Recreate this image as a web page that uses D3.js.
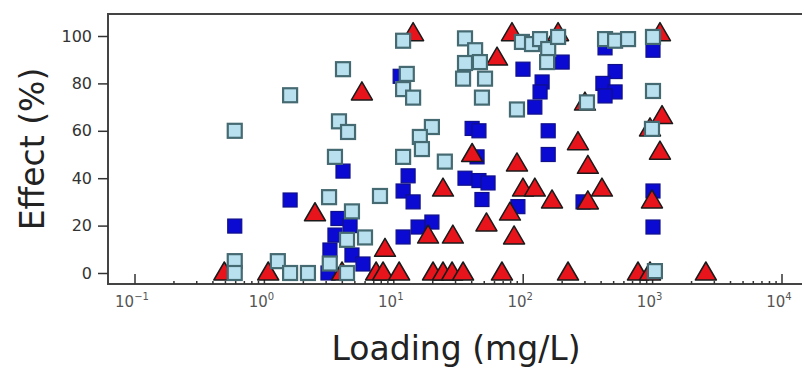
<!DOCTYPE html>
<html>
<head>
<meta charset="utf-8">
<script src="https://cdn.jsdelivr.net/npm/d3@7"></script>
<style>
  body { margin: 0; background: #fff; overflow: hidden; }
  text { font-family: "DejaVu Sans", sans-serif; }
</style>
</head>
<body>
<div id="chart"></div>
<script>
// data: [loading (mg/L), effect (%)]
const lightBlue = [
  [0.59, 60], [0.59, 5], [0.59, 0], [1.27, 5], [1.58, 0], [2.17, 0], [1.58, 75],
  [4.05, 86], [3.77, 64], [4.43, 59.5], [3.51, 49], [3.16, 32], [3.2, 4], [4.75, 26],
  [5.99, 15], [4.35, 14], [4.35, 0], [7.82, 32.5], [11.8, 98], [12.6, 84], [11.8, 77.6],
  [14.1, 74], [19.7, 61.6], [15.9, 57.4], [16.5, 52.3], [11.8, 49], [24.8, 47],
  [35.5, 99], [42.5, 94], [35.5, 88.6], [46.3, 89], [34.3, 82], [50.7, 82], [48, 74],
  [97.8, 97.5], [89.5, 69], [117, 96.6], [135, 98.7], [156, 94.5], [186, 99.6],
  [153, 89], [429, 98.7], [513, 98], [646, 98.7], [311, 72], [1007, 99.6],
  [1007, 76.8], [989, 60.8], [1042, 0.8]
];
const darkBlue = [
  [0.59, 19.8], [1.58, 30.8], [3.7, 23], [4.59, 20], [3.51, 16], [3.21, 9.7],
  [4.75, 7.6], [5.78, 3.8], [3.1, 0], [4.05, 43], [11.2, 83], [12.9, 41], [11.8, 34.6],
  [14.1, 30], [11.8, 15.2], [15.4, 19.4], [19.7, 21.5], [40.3, 61], [45.5, 60],
  [44, 49], [35.5, 40], [45.5, 39], [53.5, 38], [48, 31], [99.6, 86], [91, 28],
  [200, 89], [140, 80.6], [135, 76.4], [123, 70], [156, 60], [156, 50], [513, 85],
  [413, 80], [513, 76.4], [429, 74.7], [429, 95], [290, 30], [1007, 94],
  [1007, 34.6], [1007, 19.4]
];
const redTri = [
  [0.49, 0], [1.07, 0], [2.46, 25], [3.98, 0], [5.67, 76], [8.55, 10], [7.3, 0],
  [8.26, 0], [11, 0], [14.1, 101], [18.4, 15.6], [20.1, 0], [24, 0], [24, 35.4],
  [28.2, 0], [34.3, 0], [28.6, 15.6], [40.3, 50], [52, 20.7], [62.8, 90.7], [68.5, 0],
  [81.9, 101], [89.5, 46], [99.6, 35.4], [123, 35.4], [79, 25.3], [85, 15.2],
  [167, 30.4], [186, 101], [222, 0], [265, 55], [316, 45], [406, 35.4], [316, 30],
  [300, 71.7], [771, 0], [1140, 101], [1183, 66], [1140, 51], [989, 30.4],
  [955, 60.8], [955, 0], [2580, 0]
];
const yTicks = [0, 20, 40, 60, 80, 100];
const xDecades = [-1, 0, 1, 2, 3, 4];

const width = 802;
const height = 369;

const svg = d3.select('#chart')
  .append('svg')
  .attr('width', width)
  .attr('height', height);

const x = d3.scaleLog().domain([0.1, 10000]).range([135, 782]);
const y = d3.scaleLinear().domain([0, 100]).range([273, 36]);

const plotTop = 14;
const plotBottom = 284;
const plotLeft = 108;

// frame (right edge runs off the picture)
svg.append('rect')
  .attr('x', plotLeft)
  .attr('y', plotTop)
  .attr('width', 740)
  .attr('height', plotBottom - plotTop)
  .attr('fill', 'none')
  .attr('stroke', '#444')
  .attr('stroke-width', 2);

// y axis: outward ticks + labels
const yAxis = d3.axisLeft(y).tickValues(yTicks).tickSize(10).tickPadding(6);
const gy = svg.append('g')
  .attr('transform', 'translate(' + plotLeft + ',0)')
  .call(yAxis);
gy.select('.domain').remove();
gy.selectAll('line').attr('stroke', '#333').attr('stroke-width', 1.5);
gy.selectAll('text')
  .attr('font-size', 16)
  .attr('fill', '#333')
  .style('font-family', '"DejaVu Sans", sans-serif');

// x axis: inward ticks on log scale
const minorTicks = [];
xDecades.slice(0, -1).forEach(function(e) {
  for (let k = 1; k < 10; k++) minorTicks.push(k * Math.pow(10, e));
});
minorTicks.push(10000);
svg.append('g')
  .selectAll('line')
  .data(minorTicks)
  .join('line')
  .attr('x1', (d) => x(d))
  .attr('x2', (d) => x(d))
  .attr('y1', plotBottom)
  .attr('y2', (d) => {
    const isMajor = Math.abs(Math.log10(d) - Math.round(Math.log10(d))) < 1e-9;
    return plotBottom - (isMajor ? 10 : 3);
  })
  .attr('stroke', '#333')
  .attr('stroke-width', 1.5);

const xLab = svg.append('g')
  .selectAll('text')
  .data(xDecades)
  .join('text')
  .attr('x', (d) => x(Math.pow(10, d)) - 3)
  .attr('y', 307)
  .attr('text-anchor', 'middle')
  .attr('font-size', 15)
  .attr('fill', '#555');
xLab.append('tspan').text('10');
xLab.append('tspan')
  .attr('dy', -7)
  .attr('font-size', 10)
  .text((d) => (d < 0 ? '\u22121' : String(d)));

// axis titles
svg.append('text')
  .attr('transform', 'translate(44,149) rotate(-90)')
  .attr('text-anchor', 'middle')
  .attr('font-size', 33)
  .attr('fill', '#222')
  .text('Effect (%)');

svg.append('text')
  .attr('x', 456)
  .attr('y', 360)
  .attr('text-anchor', 'middle')
  .attr('font-size', 33)
  .attr('fill', '#222')
  .text('Loading (mg/L)');

// points: dark blue squares, then red triangles, then light blue squares
const sq = 14;
svg.append('g')
  .selectAll('rect')
  .data(darkBlue)
  .join('rect')
  .attr('x', (d) => x(d[0]) - sq / 2)
  .attr('y', (d) => y(d[1]) - sq / 2)
  .attr('width', sq)
  .attr('height', sq)
  .attr('fill', '#0a0ad2')
  .attr('stroke', '#10108a')
  .attr('stroke-width', 1.2);

const tri = 'M0,-11L10.5,7L-10.5,7Z';
svg.append('g')
  .selectAll('path')
  .data(redTri)
  .join('path')
  .attr('transform', (d) => 'translate(' + x(d[0]) + ',' + y(d[1]) + ')')
  .attr('d', tri)
  .attr('fill', '#e8141c')
  .attr('stroke', '#1a1a1a')
  .attr('stroke-width', 1.5)
  .attr('stroke-linejoin', 'round');

svg.append('g')
  .selectAll('rect')
  .data(lightBlue)
  .join('rect')
  .attr('x', (d) => x(d[0]) - sq / 2)
  .attr('y', (d) => y(d[1]) - sq / 2)
  .attr('width', sq)
  .attr('height', sq)
  .attr('fill', '#b8e0ee')
  .attr('stroke', '#456a72')
  .attr('stroke-width', 2.2);
</script>
</body>
</html>
